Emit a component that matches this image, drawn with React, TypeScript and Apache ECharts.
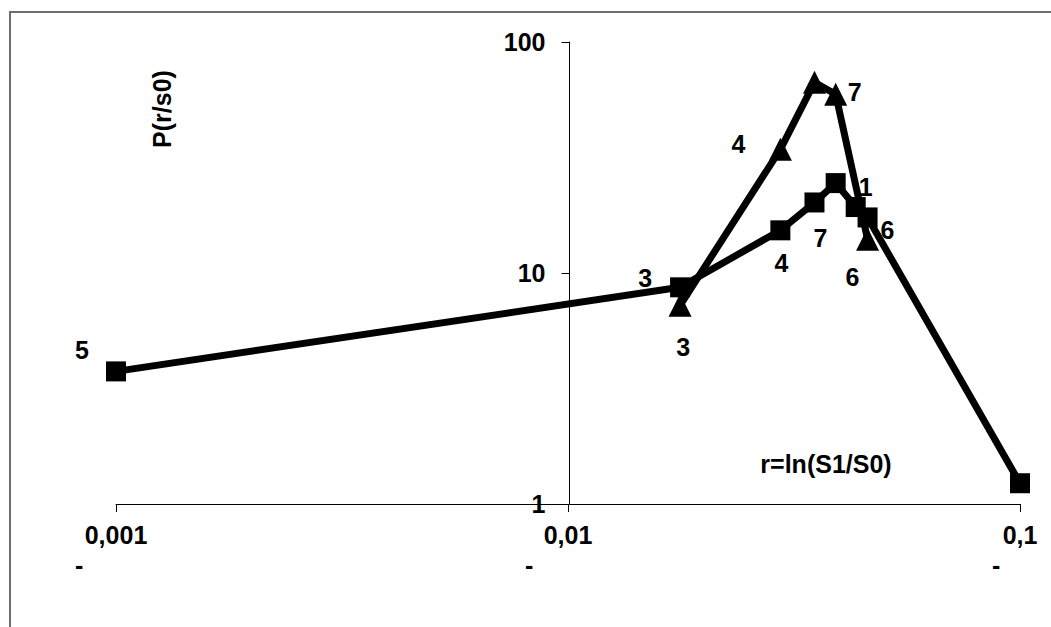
import React, { useEffect, useRef } from "react";
import * as echarts from "echarts";

const xTickLabels = ["0,001", "0,01", "0,1"];
const yTickLabels = ["1", "10", "100"];

const squareX = [0.001, 0.0177, 0.0295, 0.0351, 0.0391, 0.0433, 0.046, 0.1];
const squareY = [3.75, 8.67, 15.3, 20.2, 24.5, 19.3, 17.4, 1.23];
const squareLabels = ["5", "3", "4", "7", "", "1", "6", ""];

const triangleX = [0.0177, 0.0295, 0.0351, 0.0391, 0.046];
const triangleY = [7.25, 34.3, 66.9, 59.4, 14.0];
const triangleLabels = ["3", "4", "", "7", "6"];

const yAxisTitle = "P(r/s0)";
const xAxisTitle = "r=ln(S1/S0)";

// label offsets (style only)
const squareLabelOffsets: number[][] = [[-34, -21], [-35, -9], [1, 33], [6, 36], [0, 0], [10, -20], [20, 13], [0, 0]];
const triangleLabelOffsets: number[][] = [[3, 42], [-42, -5], [0, 0], [19, -2], [-15, 38]];

const FONT = "'Liberation Sans', Arial, sans-serif";

export default function App() {
  const ref = useRef<HTMLDivElement>(null);
  useEffect(() => {
    const chart = echarts.init(ref.current!, null, { renderer: "svg" });
    const labelStyle = { fontSize: 25, fontWeight: "bold", color: "#000", fontFamily: FONT };
    const mk = (xs: number[], ys: number[], labels: string[], offs: number[][]) =>
      xs.map((x, i) => ({
        value: [x, ys[i]],
        label: {
          show: labels[i] !== "",
          formatter: labels[i],
          position: "inside",
          offset: offs[i],
          ...labelStyle,
        },
      }));
    const option: any = {
      animation: false,
      backgroundColor: "#fff",
      textStyle: { fontFamily: FONT },
      grid: { left: 116, right: 28, top: 42, bottom: 123, containLabel: false },
      xAxis: {
        type: "log",
        logBase: 10,
        min: 0.001,
        max: 0.1,
        axisLine: { show: true, lineStyle: { color: "#000", width: 1 } },
        axisTick: { show: true, inside: false, length: 8, lineStyle: { color: "#000", width: 1 } },
        minorTick: { show: false },
        splitLine: { show: false },
        axisLabel: {
          margin: 16,
          formatter: (v: number) => {
            const i = Math.round(Math.log10(v)) + 3;
            return `{v|${xTickLabels[i]}}\n{d${i}|-}`;
          },
          rich: {
            v: { ...labelStyle, lineHeight: 30, align: "center" },
            d0: { ...labelStyle, lineHeight: 30, width: 82, align: "left" },
            d1: { ...labelStyle, lineHeight: 30, width: 86, align: "left" },
            d2: { ...labelStyle, lineHeight: 30, width: 56, align: "left" },
          },
        },
      },
      yAxis: {
        type: "log",
        logBase: 10,
        min: 1,
        max: 100,
        position: "left",
        offset: -453.5,
        axisLine: { show: true, lineStyle: { color: "#000", width: 1 } },
        axisTick: { show: true, inside: false, length: 8, lineStyle: { color: "#000", width: 1 } },
        minorTick: { show: false },
        splitLine: { show: false },
        axisLabel: {
          margin: 24,
          formatter: (v: number) => yTickLabels[Math.round(Math.log10(v))],
          ...labelStyle,
        },
      },
      graphic: [
        {
          type: "rect",
          silent: true,
          z: -10,
          shape: { x: 10, y: 12, width: 1200, height: 800 },
          style: { fill: "none", stroke: "#6e6e6e", lineWidth: 2 },
        },
        {
          type: "text",
          x: 162,
          y: 109,
          rotation: Math.PI / 2,
          style: {
            text: yAxisTitle,
            fontSize: 25,
            fontWeight: "bold",
            fontFamily: FONT,
            fill: "#000",
            textAlign: "center",
            textVerticalAlign: "middle",
          },
        },
        {
          type: "text",
          x: 826,
          y: 464,
          style: {
            text: xAxisTitle,
            fontSize: 25,
            fontWeight: "bold",
            fontFamily: FONT,
            fill: "#000",
            textAlign: "center",
            textVerticalAlign: "middle",
          },
        },
      ],
      series: [
        {
          type: "line",
          clip: false,
          data: mk(squareX, squareY, squareLabels, squareLabelOffsets),
          symbol: "rect",
          symbolSize: 20,
          lineStyle: { color: "#000", width: 7 },
          itemStyle: { color: "#000" },
          z: 3,
        },
        {
          type: "line",
          clip: false,
          data: mk(triangleX, triangleY, triangleLabels, triangleLabelOffsets),
          symbol: "triangle",
          symbolSize: 23,
          lineStyle: { color: "#000", width: 7 },
          itemStyle: { color: "#000" },
          z: 2,
        },
      ],
    };
    chart.setOption(option);
    return () => chart.dispose();
  }, []);
  return (
    <div
      ref={ref}
      style={{ position: "fixed", left: 0, top: 0, width: 1051, height: 627, background: "#fff" }}
    />
  );
}
